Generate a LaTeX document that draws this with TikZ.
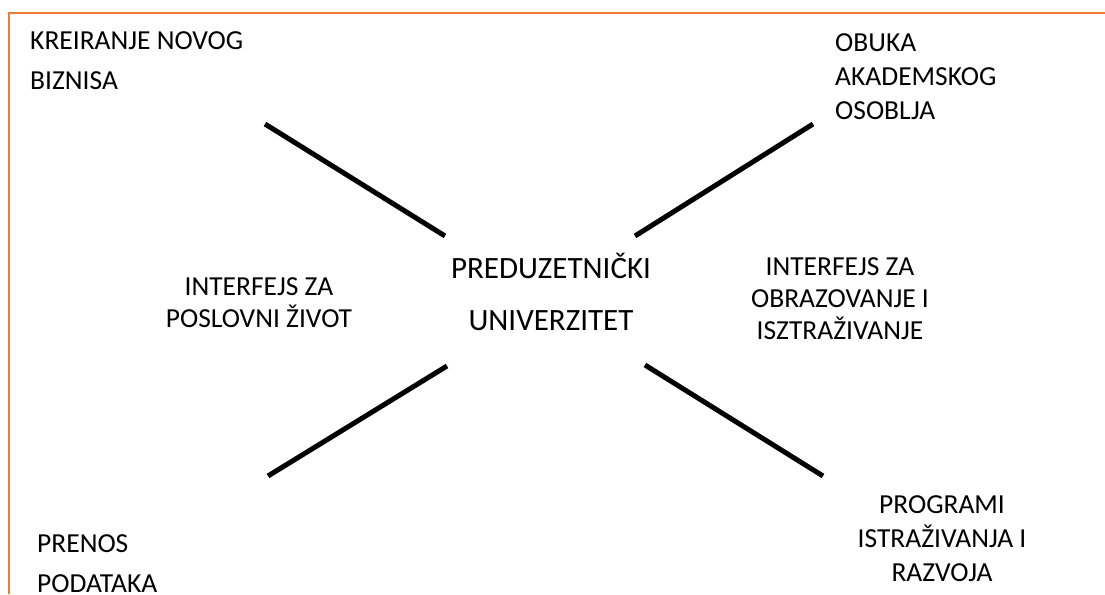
\documentclass[tikz,border=0pt]{standalone}
\usepackage{fontspec}
\setmainfont{Carlito}
\usepackage{tikz}
\definecolor{frameorange}{RGB}{237,125,49}
\tikzset{x=1pt, y=-1pt}

\begin{document}
\begin{tikzpicture}
\tikzstyle{every node} = [inner sep=0pt, text=black]
\tikzstyle{small} = [font=\fontsize{27.5}{33}\selectfont]
\tikzstyle{spoke} = [line width=5pt]
\useasboundingbox (0,0) rectangle (1105,594);
\draw [frameorange, line width=2.5pt] (1105,13) -- (9,13) -- (9,594);
% labels (anchored at the baseline of the last line)
\node (hub) [anchor=base, align=center, font=\fontsize{31}{52}\selectfont] at (551,330) {PREDUZETNIČKI\\UNIVERZITET};
\node (biz) [small, anchor=base west, align=left] at (30,89) {KREIRANJE NOVOG\\[7pt]BIZNISA};
\node (staff) [small, anchor=base west, align=left] at (835,119) {OBUKA\\[1pt]AKADEMSKOG\\[1pt]OSOBLJA};
\node (data) [small, anchor=base west, align=left] at (37,592) {PRENOS\\[7pt]PODATAKA};
\node (rnd) [small, anchor=base, align=center] at (942,581) {PROGRAMI\\[1pt]ISTRAŽIVANJA I\\[1pt]RAZVOJA};
\node (ifbiz) [small, anchor=base, align=center] at (259,327) {INTERFEJS ZA\\[-1pt]POSLOVNI ŽIVOT};
\node (ifedu) [small, anchor=base, align=center] at (840,339) {INTERFEJS ZA\\[-1pt]OBRAZOVANJE I\\[-1pt]ISZTRAŽIVANJE};
% spokes
\coordinate (tl) at (265,124);
\coordinate (tlin) at (445,236);
\coordinate (tr) at (813,124);
\coordinate (trin) at (635,236);
\coordinate (bl) at (268,476);
\coordinate (blin) at (447,366);
\coordinate (br) at (823,476);
\coordinate (brin) at (645,365);
\foreach \from/\to in {tl/tlin, tr/trin, bl/blin, br/brin}
\draw [spoke] (\from) -- (\to);
\end{tikzpicture}
\end{document}
